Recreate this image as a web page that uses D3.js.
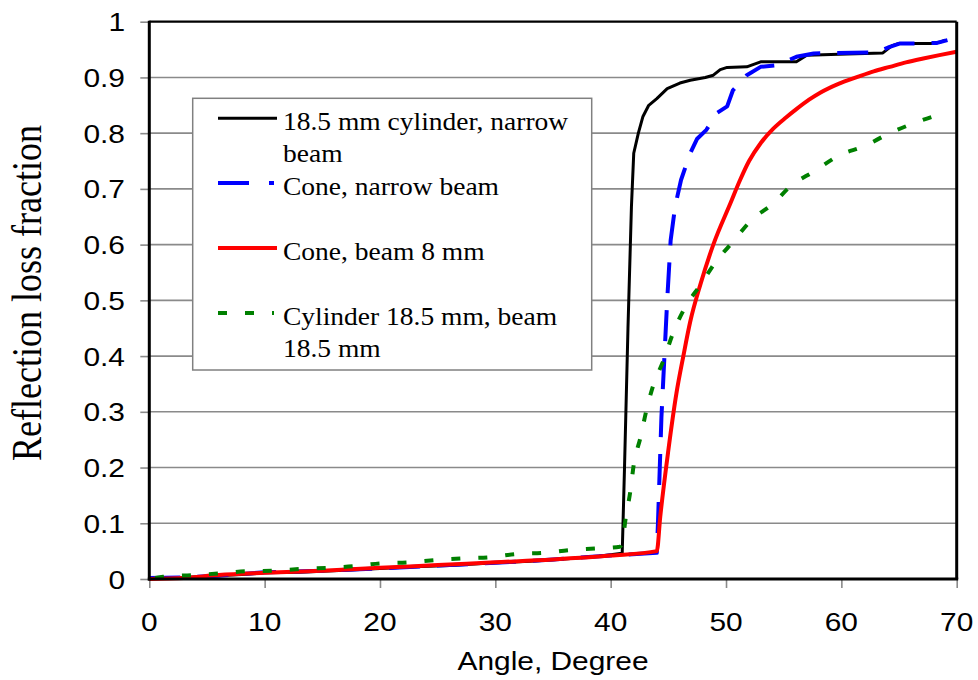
<!DOCTYPE html>
<html><head><meta charset="utf-8">
<script src="https://cdn.jsdelivr.net/npm/d3@7"></script>
<style>html,body{margin:0;padding:0;background:#fff;}</style>
</head><body>
<svg id="c" width="978" height="680"></svg>
<script>
const xTicks = [0,10,20,30,40,50,60,70];
const yTicks = [0,0.1,0.2,0.3,0.4,0.5,0.6,0.7,0.8,0.9,1];
const yTickLabels = ["0","0.1","0.2","0.3","0.4","0.5","0.6","0.7","0.8","0.9","1"];

const blackX = [0,2,5,8,10,13,16,20,23,26,30,33,36,39,41.0,41.2,41.5,41.8,42.0,42.4,42.8,43.3,44.0,44.9,46.0,46.9,48.2,48.9,49.5,50.1,51.8,53.0,56.1,57.0,60.5,63.6,64.4,65.0,67.9,68.5,69.0];
const blackY = [0,0.002,0.005,0.008,0.011,0.012,0.015,0.019,0.022,0.024,0.029,0.032,0.036,0.041,0.046,0.2,0.45,0.668,0.764,0.80,0.830,0.850,0.862,0.880,0.890,0.895,0.900,0.904,0.914,0.918,0.919,0.928,0.928,0.940,0.942,0.944,0.957,0.961,0.961,0.963,0.967];

const blueX = [0,3,6,10,15,20,25,30,35,40,44.0,44.1,44.4,44.9,45.2,45.6,46.1,46.9,47.5,48.3,49.2,50.1,50.6,51.8,53.0,54.4,55.3,56.1,57.6,63.1,64.2,65.1,67.1,68.3,69.2];
const blueY = [0.002,0.003,0.006,0.012,0.015,0.019,0.024,0.029,0.035,0.042,0.047,0.10,0.29,0.50,0.608,0.67,0.716,0.764,0.79,0.806,0.836,0.848,0.877,0.904,0.919,0.922,0.930,0.937,0.943,0.945,0.955,0.961,0.961,0.962,0.967];

const redX = [0,3,6,10,15,20,25,30,35,40,44.0,44.3,45.0,45.7,46.3,46.9,47.8,48.9,50.4,51.2,52.0,53.0,54.1,55.2,56.1,57.2,58.2,59.8,61.4,62.8,64.2,65.6,67.1,68.5,70];
const redY = [0,0.002,0.007,0.011,0.015,0.02,0.025,0.03,0.035,0.042,0.05,0.112,0.231,0.333,0.400,0.462,0.530,0.600,0.675,0.715,0.750,0.782,0.808,0.828,0.843,0.860,0.873,0.889,0.901,0.911,0.919,0.927,0.934,0.940,0.946];

const greenX = [0.5,1.2,3.7,6.1,8.4,10.8,13.1,15.4,17.8,20,22.5,24.8,27.1,29.5,31.9,34.2,36.5,38.8,40.8,41.0,41.3,41.7,42.0,42.6,43.1,43.7,44.6,45.4,46.5,47.8,49.1,50.6,52.2,54.1,55.6,57.6,59.9,61.9,64.2,66.3,68.9];
const greenY = [0.002,0.004,0.007,0.010,0.014,0.015,0.018,0.020,0.023,0.028,0.030,0.034,0.037,0.039,0.045,0.047,0.052,0.055,0.058,0.065,0.109,0.157,0.205,0.255,0.303,0.348,0.393,0.441,0.489,0.528,0.569,0.605,0.644,0.674,0.705,0.731,0.761,0.776,0.800,0.818,0.836];

const seriesNames = ["18.5 mm cylinder, narrow|beam","Cone, narrow beam","Cone, beam 8 mm","Cylinder 18.5 mm, beam|18.5 mm"];

const series = [
  {x:blackX,y:blackY,color:"#000000",w:3,dash:null,legDash:null,smooth:false},
  {x:blueX,y:blueY,color:"#0000ff",w:4,dash:"31,17",legDash:"31,20,5,30",smooth:false},
  {x:redX,y:redY,color:"#ff0000",w:4,dash:null,legDash:null,smooth:true},
  {x:greenX,y:greenY,color:"#008000",w:4,dash:"9,18",legDash:"9,18,9,18,2,30",smooth:true}
];

const svg = d3.select("#c");
const x = d3.scaleLinear().domain([0,70]).range([149.3,956.7]);
const y = d3.scaleLinear().domain([0,1]).range([579,21.7]);
const SX = 1.15;

// grid
svg.append("g").selectAll("line").data(yTicks.filter(v=>v>0&&v<1)).join("line")
  .attr("x1",x(0)).attr("x2",x(70)).attr("y1",d=>y(d)).attr("y2",d=>y(d))
  .attr("stroke","#8a8a8a").attr("stroke-width",1.6);

// axes via d3
const yAxis = d3.axisLeft(y).tickValues(yTicks).tickSize(9).tickFormat(()=>"");
const gy = svg.append("g").attr("transform",`translate(${x(0)},0)`).call(yAxis);
gy.select(".domain").remove();
gy.selectAll(".tick line").attr("stroke","#8a8a8a").attr("stroke-width",1.6);
const xAxis = d3.axisBottom(x).tickValues(xTicks).tickSize(9).tickFormat(()=>"");
const gx = svg.append("g").attr("transform",`translate(0,${y(0)})`).call(xAxis);
gx.select(".domain").remove();
gx.selectAll(".tick line").attr("stroke","#8a8a8a").attr("stroke-width",1.6);

// tick labels (stretched horizontally)
svg.append("g").selectAll("text").data(yTicks).join("text")
  .attr("transform",(d)=>`translate(125,${y(d)+9.5}) scale(${SX},1)`)
  .attr("text-anchor","end").attr("font-family","Liberation Sans, Arial, sans-serif")
  .attr("font-size",26).attr("fill","#000").text((d,i)=>yTickLabels[i]);
svg.append("g").selectAll("text").data(xTicks).join("text")
  .attr("transform",(d)=>`translate(${x(d)},631) scale(${SX},1)`)
  .attr("text-anchor","middle").attr("font-family","Liberation Sans, Arial, sans-serif")
  .attr("font-size",26).attr("fill","#000").text(d=>d);

// axis titles
svg.append("text").attr("transform",`translate(553,670) scale(${SX},1)`)
  .attr("text-anchor","middle").attr("font-family","Liberation Sans, Arial, sans-serif")
  .attr("font-size",26).text("Angle, Degree");
svg.append("text").attr("transform",`translate(41,293) scale(${SX},1) rotate(-90)`)
  .attr("text-anchor","middle").attr("font-family","Liberation Serif, Times New Roman, serif")
  .attr("font-size",36).text("Reflection loss fraction");

// legend
const lg = svg.append("g");
lg.append("rect").attr("x",192.7).attr("y",98.3).attr("width",399).attr("height",271.7)
  .attr("fill","#fff").attr("stroke","#808080").attr("stroke-width",1.5);
const legY = [118.3,183,248,313];
series.forEach((s,i)=>{
  lg.append("line").attr("x1",218).attr("x2",277).attr("y1",legY[i]).attr("y2",legY[i])
    .attr("stroke",s.color).attr("stroke-width",s.w)
    .attr("stroke-dasharray",s.legDash);
  const parts = seriesNames[i].split("|");
  parts.forEach((p,j)=>{
    lg.append("text").attr("transform",`translate(283,${legY[i]+12+j*32}) scale(1.1,1)`)
      .attr("font-family","Liberation Serif, Times New Roman, serif").attr("font-size",25)
      .attr("fill","#000").text(p);
  });
});

// curves
const lineLin = d3.line().x(d=>x(d[0])).y(d=>y(d[1]));
const lineSm = d3.line().x(d=>x(d[0])).y(d=>y(d[1])).curve(d3.curveMonotoneX);
series.forEach(s=>{
  const pts = s.x.map((v,i)=>[v,s.y[i]]);
  svg.append("path").datum(pts).attr("d",s.smooth?lineSm:lineLin).attr("fill","none")
    .attr("stroke",s.color).attr("stroke-width",s.w)
    .attr("stroke-dasharray",s.dash).attr("stroke-linejoin","round");
});

// frame
svg.append("line").attr("x1",x(0)).attr("x2",x(70)).attr("y1",y(1)).attr("y2",y(1)).attr("stroke","#000").attr("stroke-width",2.2);
svg.append("line").attr("x1",x(70)).attr("x2",x(70)).attr("y1",y(1)).attr("y2",y(0)).attr("stroke","#000").attr("stroke-width",3);
svg.append("line").attr("x1",x(0)).attr("x2",x(0)).attr("y1",y(1)-1).attr("y2",y(0)+1.5).attr("stroke","#000").attr("stroke-width",3);
svg.append("line").attr("x1",x(0)-1.5).attr("x2",x(70)+1.5).attr("y1",y(0)).attr("y2",y(0)).attr("stroke","#000").attr("stroke-width",3);
</script>
</body></html>
